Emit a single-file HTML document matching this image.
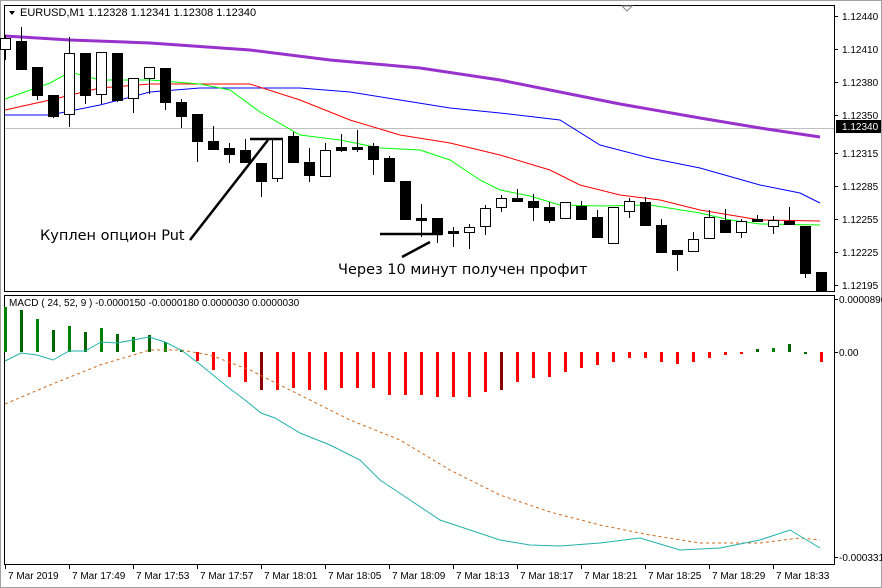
<!DOCTYPE html>
<html><head><meta charset="utf-8"><style>
html,body{margin:0;padding:0;background:#fff;}
svg{display:block;font-family:"Liberation Sans",sans-serif;}
</style></head><body>
<svg id="s" width="882" height="588" viewBox="0 0 882 588" xmlns="http://www.w3.org/2000/svg">
<rect x="0" y="0" width="882" height="588" fill="#fff"/>
<rect x="0.5" y="0.5" width="881" height="587" fill="none" stroke="#a0a0a0"/>
<rect x="4.5" y="5.5" width="830" height="286" fill="none" stroke="#000"/>
<rect x="4.5" y="295.5" width="830" height="269" fill="none" stroke="#000"/>
<line x1="5" y1="128.5" x2="834" y2="128.5" stroke="#c0c0c0"/>
<g id="ma"></g>
<g id="candles"></g>
<g id="macd"></g>
<line x1="190" y1="240" x2="268" y2="140" stroke="#000" stroke-width="2.5"/>
<line x1="250" y1="139" x2="283" y2="139" stroke="#000" stroke-width="2.5"/>
<line x1="380" y1="234" x2="442" y2="234" stroke="#000" stroke-width="2.5"/>
<line x1="402" y1="257" x2="430" y2="242" stroke="#000" stroke-width="2.5"/>
<text x="40" y="240" font-size="14.5" fill="#000" font-family="DejaVu Sans, sans-serif">Куплен опцион Put</text>
<text x="338" y="274" font-size="14.5" fill="#000" font-family="DejaVu Sans, sans-serif">Через 10 минут получен профит</text>
<polygon points="9,11 15,11 12,15" fill="#000"/>
<text x="20" y="16" font-size="11" fill="#000">EURUSD,M1  1.12328 1.12341 1.12308 1.12340</text>
<polygon points="622,6 632,6 627,11" fill="#fff" stroke="#888"/>
<text x="9" y="306" font-size="10" fill="#000">MACD ( 24, 52, 9 ) -0.0000150 -0.0000180 0.0000030 0.0000030</text>
<g id="axis" font-size="10" fill="#000"></g>
</svg>
<script>
const NS="http://www.w3.org/2000/svg";
function el(p,t,a){const e=document.createElementNS(NS,t);for(const k in a)e.setAttribute(k,a[k]);p.appendChild(e);return e;}
function pts(a){return a.map(p=>p.join(",")).join(" ");}
const ma=document.getElementById("ma");
el(ma,"polyline",{points:pts([[5,36],[70,40],[150,43],[250,50],[330,60],[420,68],[500,80],[560,92],[620,104],[700,118],[760,128],[820,137]]),fill:"none",stroke:"#9932cc","stroke-width":3});
el(ma,"polyline",{points:pts([[5,115],[50,115],[100,105],[150,92],[200,88],[300,88],[350,92],[400,100],[450,108],[500,113],[560,120],[600,145],[650,158],[700,168],[760,185],[800,193],[820,203]]),fill:"none",stroke:"#0000ff","stroke-width":1});
el(ma,"polyline",{points:pts([[5,110],[50,100],[100,88],[150,84],[250,84],[300,100],[350,120],[400,135],[450,143],[500,155],[550,170],[580,185],[620,195],[660,200],[700,210],[760,220],[820,221]]),fill:"none",stroke:"#ff0000","stroke-width":1});
el(ma,"polyline",{points:pts([[5,99],[50,83],[70,72],[100,80],[150,80],[200,84],[230,90],[260,112],[300,135],[340,140],[380,148],[420,150],[450,160],[480,180],[500,190],[530,196],[560,205],[600,206],[650,205],[700,213],[730,220],[760,224],[820,225]]),fill:"none",stroke:"#00ff00","stroke-width":1});
const C=[[38,49,35,60,1],[41,69,27,70,0],[67,95,67,100,0],[95,116,95,118,0],[53,114,37,127,1],[53,95,53,104,0],[52,94,52,104,1],[53,100,53,102,0],[78,98,78,113,1],[67,78,67,94,1],[68,102,68,110,0],[102,116,99,128,0],[114,141,114,162,0],[141,149,126,149,0],[148,154,143,163,0],[150,162,139,162,0],[163,181,163,197,0],[138,178,138,182,1],[136,162,132,162,0],[162,175,148,182,0],[150,176,143,176,1],[147,150,134,152,0],[147,149,130,152,0],[146,159,143,175,0],[158,181,156,181,0],[181,219,181,220,0],[218,220,204,237,0],[218,234,218,243,0],[231,233,227,247,0],[227,232,224,249,1],[208,226,205,235,1],[198,207,195,212,1],[198,201,189,201,0],[201,207,194,221,0],[207,220,202,223,0],[202,218,202,218,1],[206,219,201,219,0],[217,237,210,238,0],[207,243,207,243,1],[201,211,198,218,1],[202,225,197,225,0],[225,252,219,252,0],[250,254,250,271,0],[239,251,232,251,1],[217,238,210,238,1],[220,232,209,233,0],[221,232,219,238,1],[219,221,215,222,0],[220,226,216,234,1],[221,224,207,224,0],[226,273,226,278,0],[272,291,272,291,0]];
const cg=document.getElementById("candles");
C.forEach((c,i)=>{const x=5.5+16*i;
 el(cg,"line",{x1:x,y1:c[2],x2:x,y2:c[3],stroke:"#000","stroke-width":1});
 let h=Math.max(c[1]-c[0],1);
 if(c[4]) el(cg,"rect",{x:x-5,y:c[0]+.5,width:10,height:h,fill:"#fff",stroke:"#000"});
 else el(cg,"rect",{x:x-5.5,y:c[0],width:11,height:h+1,fill:"#000"});
});
const H=[307,310,319,330,326,332,328,334,337,335,342,350,361,370,377,382,390,390,388,390,390,388,388,388,395,395,395,397,397,397,392,390,382,378,377,372,368,365,362,358,358,362,364,362,358,355,353,349,348,344,352,362];
const mg=document.getElementById("macd");
H.forEach((y,i)=>{const x=4+16*i;let col;
 if(y<352){col=(i%2?"#006400":"#008000");}else if(y>352){col=(i==16||i==31?"#8b0000":"#ff0000");}else col="#006400";
 const top=Math.min(y,352),h=Math.max(Math.abs(y-352),2);
 el(mg,"rect",{x:x,y:top,width:3,height:h,fill:col});
});
el(mg,"polyline",{points:pts([[5,404],[50,385],[100,365],[150,350],[181,350],[210,355],[250,370],[300,395],[350,420],[400,440],[450,470],[500,495],[550,512],[600,525],[650,535],[700,543],[760,543],[800,538],[820,540]]),fill:"none",stroke:"#d2691e","stroke-width":1,"stroke-dasharray":"3,3"});
el(mg,"polyline",{points:pts([[5,361],[21,353],[37,355],[53,360],[69,351],[85,351],[101,342],[117,343],[133,340],[149,337],[165,342],[181,350],[197,362],[213,375],[229,388],[245,400],[261,413],[275,418],[300,433],[330,445],[360,460],[380,480],[410,500],[440,520],[470,530],[500,540],[530,545],[560,546],[600,543],[640,538],[680,550],[720,548],[760,540],[790,530],[820,548]]),fill:"none",stroke:"#20b2aa","stroke-width":1});
const ax=document.getElementById("axis");
[[1.12440,16],[1.12410,49],[1.12380,82],[1.12350,115],[1.12315,153],[1.12285,186],[1.12255,219],[1.12225,252],[1.12195,285]].forEach(p=>{
 el(ax,"line",{x1:834,y1:p[1]+.5,x2:838,y2:p[1]+.5,stroke:"#000"});
 const t=el(ax,"text",{x:842,y:p[1]+4});t.textContent=p[0].toFixed(5);});
el(ax,"rect",{x:836,y:120,width:45,height:13,fill:"#000"});
const tt=el(ax,"text",{x:842,y:130,fill:"#fff"});tt.textContent="1.12340";
[["0.0000896",299],["0.00",352],["-0.0003319",557]].forEach(p=>{
 el(ax,"line",{x1:834,y1:p[1]+.5,x2:838,y2:p[1]+.5,stroke:"#000"});
 const t=el(ax,"text",{x:839,y:p[1]+4});t.textContent=p[0];});
const L=["7 Mar 2019","7 Mar 17:49","7 Mar 17:53","7 Mar 17:57","7 Mar 18:01","7 Mar 18:05","7 Mar 18:09","7 Mar 18:13","7 Mar 18:17","7 Mar 18:21","7 Mar 18:25","7 Mar 18:29","7 Mar 18:33"];
L.forEach((s,i)=>{const x=5+64*i;
 el(ax,"line",{x1:x+.5,y1:565,x2:x+.5,y2:569,stroke:"#000"});
 const t=el(ax,"text",{x:x+3,y:579});t.textContent=s;});
</script>
</body></html>
